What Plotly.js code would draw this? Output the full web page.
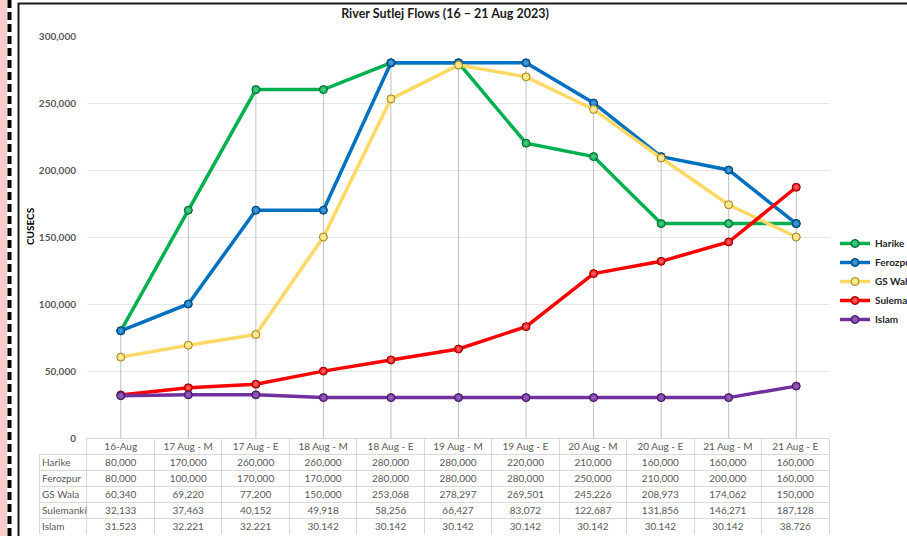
<!DOCTYPE html>
<html>
<head>
<meta charset="utf-8">
<script src="https://cdn.plot.ly/plotly-3.0.1.min.js"></script>
<style>
html,body{margin:0;padding:0;background:#fff;}
#chart{width:907px;height:536px;}
</style>
</head>
<body>
<div id="chart"></div>
<script>
const categories = ["16-Aug","17 Aug - M","17 Aug - E","18 Aug - M","18 Aug - E","19 Aug - M","19 Aug - E","20 Aug - M","20 Aug - E","21 Aug - M","21 Aug - E"];
const harike    = [80000,170000,260000,260000,280000,280000,220000,210000,160000,160000,160000];
const ferozpur  = [80000,100000,170000,170000,280000,280000,280000,250000,210000,200000,160000];
const gsWala    = [60340,69220,77200,150000,253068,278297,269501,245226,208973,174062,150000];
const sulemanki = [32133,37463,40152,49918,58256,66427,83072,122687,131856,146271,187128];
const islam     = [31523,32221,32221,30142,30142,30142,30142,30142,30142,30142,38726];
const seriesNames = ["Harike","Ferozpur","GS Wala","Sulemanki","Islam"];
const yTicks = [0,50000,100000,150000,200000,250000,300000];
const yTickLabels = ["0","50,000","100,000","150,000","200,000","250,000","300,000"];

const W = 907, H = 536;
const px = v => v / W;
const py = v => 1 - v / H;

const allSeries = [harike, ferozpur, gsWala, sulemanki, islam];
const colors = ["#00b050","#0070c0","#ffd966","#ff0000","#7030a0"];
const edge   = ["#00602c","#003f6e","#9c8320","#8a0000","#3d1659"];
const light  = ["#5fcf8e","#5aa2d8","#fff0b0","#ff7a7a","#9a6cc0"];

// drop lines
const dx = [], dy = [];
categories.forEach((c, i) => {
  const m = Math.max(...allSeries.map(s => s[i]));
  dx.push(c, c, null); dy.push(m, 0, null);
});

const traces = [{
  type: "scatter", mode: "lines", x: dx, y: dy,
  line: {color: "#bfbfbf", width: 1}, hoverinfo: "skip", showlegend: false,
  xaxis: "x", yaxis: "y"
}];

allSeries.forEach((s, k) => {
  traces.push({
    type: "scatter", mode: "lines+markers", name: seriesNames[k],
    x: categories, y: s,
    line: {color: colors[k], width: 3.5},
    marker: {size: 8, color: colors[k], line: {color: edge[k], width: 1},
             gradient: {type: "radial", color: light[k]}},
    xaxis: "x", yaxis: "y"
  });
});

// data table
const fmt = v => v.toLocaleString("en-US");
const nb = t => t.replace(/ /g, "\u00a0");
const valueCols = categories.map((c, i) => allSeries.map(s => fmt(s[i])));
const lineCol = "#d9d9d9";
const clear = "rgba(0,0,0,0)";
const tFont = {family: "Lato, 'Open Sans', sans-serif", size: 10, color: "#595959"};
const colW = [48].concat(categories.map(() => 67.5));

// grid of the table (borders)
traces.push({
  type: "table",
  domain: {x: [px(39), px(830)], y: [1 - 534 / H, 1 - 438 / H]},
  columnwidth: colW,
  header: {
    values: [""].concat(categories.map(() => "")),
    height: 16,
    fill: {color: [clear].concat(categories.map(() => "#ffffff"))},
    line: {color: [clear].concat(categories.map(() => lineCol)), width: 1},
    font: tFont
  },
  cells: {
    values: [seriesNames.map(() => "")].concat(valueCols.map(col => col.map(() => ""))),
    height: 16,
    fill: {color: "#ffffff"},
    line: {color: lineCol, width: 1},
    font: tFont
  }
});
// text of the table: row labels
traces.push({
  type: "table",
  domain: {x: [px(34), px(120)], y: [1 - 530 / H, 1 - 434 / H]},
  header: {values: [""], height: 16, fill: {color: clear}, line: {color: clear, width: 0}, font: tFont},
  cells: {
    values: [seriesNames.map(nb)],
    height: 16, align: "left",
    fill: {color: clear}, line: {color: clear, width: 0}, font: tFont
  }
});
// text of the table: values
traces.push({
  type: "table",
  domain: {x: [px(87), px(830)], y: [1 - 530 / H, 1 - 434 / H]},
  header: {
    values: categories.map(nb),
    height: 16, align: "center",
    fill: {color: clear}, line: {color: clear, width: 0}, font: tFont
  },
  cells: {
    values: valueCols,
    height: 16, align: "center",
    fill: {color: clear}, line: {color: clear, width: 0}, font: tFont
  }
});

const layout = {
  width: W, height: H,
  margin: {l: 0, r: 0, t: 0, b: 0, autoexpand: false},
  paper_bgcolor: "#ffffff", plot_bgcolor: "#ffffff",
  showlegend: true,
  title: {
    text: "River Sutlej Flows (16 – 21 Aug 2023)",
    x: px(445), xref: "container", xanchor: "center",
    y: py(14), yref: "container", yanchor: "middle",
    font: {family: "Lato, 'Open Sans', sans-serif", size: 12.5, weight: "bold", color: "#1a1a1a"}
  },
  xaxis: {
    type: "category", domain: [px(87), px(830)], range: [-0.5, 10.5],
    showticklabels: false, showgrid: false, zeroline: false, ticks: "",
    showline: true, linecolor: "#d9d9d9", linewidth: 1, fixedrange: true
  },
  yaxis: {
    domain: [1 - 438 / H, 1 - 36 / H], range: [0, 300000],
    tickvals: yTicks, ticktext: yTickLabels,
    tickfont: {family: "Lato, 'Open Sans', sans-serif", size: 10, weight: "bold", color: "#595959"},
    ticklabelstandoff: 10,
    showgrid: true, gridcolor: "#e6e6e6", gridwidth: 1, zeroline: false,
    showline: false, ticks: "",
    fixedrange: true
  },
  annotations: [{
    text: "CUSECS", textangle: -90, showarrow: false,
    xref: "paper", yref: "paper", x: px(30), y: py(226), xanchor: "center", yanchor: "middle",
    font: {family: "Lato, 'Open Sans', sans-serif", size: 10, weight: "bold", color: "#000000"}
  }],
  legend: {
    xref: "paper", yref: "paper",
    x: px(835), xanchor: "left", y: py(229), yanchor: "top",
    bgcolor: "rgba(0,0,0,0)", borderwidth: 0,
    font: {family: "Lato, 'Open Sans', sans-serif", size: 10, weight: "bold", color: "#262626"},
    itemwidth: 30, tracegroupgap: 0
  },
  shapes: [
    {type: "rect", xref: "paper", yref: "paper", x0: 0, x1: px(7), y0: 0, y1: 1,
     fillcolor: "#ffcccc", line: {width: 0}, layer: "below"},
    {type: "line", xref: "paper", yref: "paper", x0: px(9.5), x1: px(9.5), y0: 1, y1: 0,
     line: {color: "#000000", width: 4, dash: "8px,4px"}},
    {type: "rect", xref: "paper", yref: "paper", x0: px(18.5), x1: px(930), y0: py(3.5), y1: py(560),
     fillcolor: "rgba(0,0,0,0)", line: {color: "#1a1a1a", width: 2}}
  ]
};

Plotly.newPlot("chart", traces, layout, {displayModeBar: false, staticPlot: true});
</script>
</body>
</html>
